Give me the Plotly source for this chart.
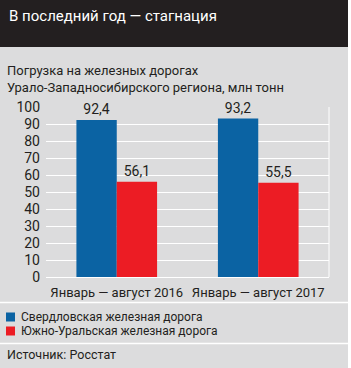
import plotly.graph_objects as go

categories = ["Январь — август 2016", "Январь — август 2017"]
series_names = ["Свердловская железная дорога", "Южно-Уральская железная дорога"]
sverdlovsk = [92.4, 93.2]
south_ural = [56.1, 55.5]
colors = ["#0b63a3", "#ec1c24"]
y_ticks = [0, 10, 20, 30, 40, 50, 60, 70, 80, 90, 100]

title = "В последний год — стагнация"
subtitle1 = "Погрузка на железных дорогах"
subtitle2 = "Урало-Западносибирского региона, млн тонн"
source = "Источник: Росстат"

W, H = 351, 368
L, R, T, B = 46, 329, 107, 277  # plot area in pixels
FONT = "Roboto, Liberation Sans, sans-serif"
TXT = "#231f20"


def px(x):
    return (x - L) / (R - L)


def py(y):
    return (B - y) / (B - T)


fig = go.Figure()
for name, vals, col in zip(series_names, [sverdlovsk, south_ural], colors):
    fig.add_trace(go.Bar(
        x=categories, y=vals, name=name, marker=dict(color=col, line=dict(width=0)),
        texttemplate="%{y:.1f}", textposition="outside",
        textfont=dict(family=FONT, size=14, color=TXT), cliponaxis=False,
        showlegend=False,
    ))

shapes = [
    dict(type="rect", xref="paper", yref="paper", x0=px(0), x1=px(348), y0=py(H), y1=py(47),
         fillcolor="#dcdcdd", line=dict(width=0), layer="below"),
    dict(type="rect", xref="paper", yref="paper", x0=px(0), x1=px(348), y0=py(47), y1=py(0),
         fillcolor="#231f20", line=dict(width=0), layer="below"),
    dict(type="line", xref="paper", yref="paper", x0=px(0), x1=px(348), y0=py(302.5), y1=py(302.5),
         line=dict(color="white", width=1.5)),
    dict(type="line", xref="paper", yref="paper", x0=px(0), x1=px(348), y0=py(343.5), y1=py(343.5),
         line=dict(color="white", width=1.5)),
    dict(type="line", xref="paper", yref="paper", x0=1, x1=1, y0=0, y1=1,
         line=dict(color="white", width=1)),
]
for i, col in enumerate(colors):
    yc = 317 + i * 14
    shapes.append(dict(type="rect", xref="paper", yref="paper", x0=px(6), x1=px(15),
                       y0=py(yc + 4.5), y1=py(yc - 4.5), fillcolor=col, line=dict(width=0)))

annotations = [
    dict(text=title, x=px(7), y=py(16), xref="paper", yref="paper", xanchor="left", yanchor="middle",
         showarrow=False, font=dict(family=FONT, size=15, color="white")),
    dict(text=subtitle1, x=px(5), y=py(70), xref="paper", yref="paper", xanchor="left", yanchor="middle",
         showarrow=False, font=dict(family=FONT, size=13, color=TXT)),
    dict(text=subtitle2, x=px(5), y=py(87), xref="paper", yref="paper", xanchor="left", yanchor="middle",
         showarrow=False, font=dict(family=FONT, size=13, color=TXT)),
    dict(text=source, x=px(5), y=py(354), xref="paper", yref="paper", xanchor="left", yanchor="middle",
         showarrow=False, font=dict(family=FONT, size=12.5, color=TXT)),
]
for i, name in enumerate(series_names):
    annotations.append(dict(text=name, x=px(19), y=py(317 + i * 14), xref="paper", yref="paper",
                            xanchor="left", yanchor="middle", showarrow=False,
                            font=dict(family=FONT, size=12, color=TXT)))

fig.update_layout(
    width=W, height=H,
    margin=dict(l=L, r=W - R, t=T, b=H - B, pad=0),
    paper_bgcolor="white", plot_bgcolor="rgba(0,0,0,0)",
    barmode="group", bargap=0.43, bargroupgap=0,
    separators=", ",
    font=dict(family=FONT, size=14, color=TXT),
    shapes=shapes, annotations=annotations,
    xaxis=dict(showgrid=False, showline=False, ticks="", tickangle=0, automargin=False,
               ticklabelstandoff=6,
               tickfont=dict(family=FONT, size=13, color=TXT), fixedrange=True),
    yaxis=dict(range=[0, 100], tickvals=y_ticks, showgrid=True, gridcolor="white", gridwidth=1,
               zeroline=True, zerolinecolor="white", zerolinewidth=1, showline=False, ticks="",
               ticklabelstandoff=5,
               automargin=False, tickfont=dict(family=FONT, size=14, color=TXT), fixedrange=True),
    showlegend=False,
)

fig.write_html("out.html")
